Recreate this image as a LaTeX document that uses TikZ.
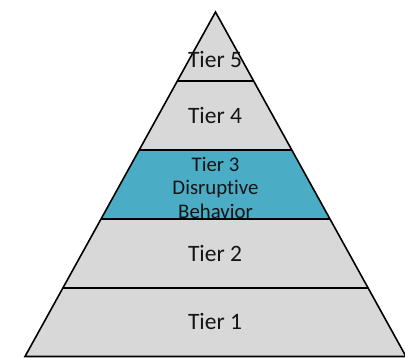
\documentclass[tikz,border=0pt]{standalone}
\usepackage{fontspec}
\setmainfont[RawFeature={-liga;-clig;-dlig}]{Carlito}
\definecolor{tiergray}{RGB}{216,216,216}
\definecolor{tierblue}{RGB}{75,172,198}
\definecolor{tiertext}{RGB}{20,20,20}
\tikzset{x=1bp,y=-1bp,
 band/.style={fill=tiergray,draw=none},
 hot/.style={fill=tierblue,draw=none},
 outline/.style={draw=black,line width=1.6bp,line join=miter},
 tierlabel/.style={text=tiertext,font=\fontsize{23.5bp}{26bp}\selectfont,inner sep=0pt,align=center},
 tiersmall/.style={text=tiertext,font=\fontsize{20.8bp}{23.5bp}\selectfont,inner sep=0pt,align=center}}
\begin{document}
\begin{tikzpicture}
\useasboundingbox (0,0) rectangle (405,358);
\clip (0,0) rectangle (405,358);
\fill[white] (0,0) rectangle (405,358);
\coordinate (apex) at (215.5,12);
\coordinate (bl) at (25,356.5);
\coordinate (br) at (406,356.5);
\coordinate (l4) at (177.4,81); \coordinate (r4) at (253.6,81);
\coordinate (l3) at (139.2,150); \coordinate (r3) at (291.8,150);
\coordinate (l2) at (101,219); \coordinate (r2) at (330,219);
\coordinate (l1) at (62.9,288); \coordinate (r1) at (368.1,288);
\fill[band] (apex) -- (bl) -- (br) -- cycle;
\fill[hot] (l3) -- (r3) -- (r2) -- (l2) -- cycle;
\draw[outline] (l4) -- (r4);
\draw[outline] (l3) -- (r3);
\draw[outline] (l2) -- (r2);
\draw[outline] (l1) -- (r1);
\draw[outline] (apex) -- (bl) -- (br) -- cycle;
\node[tierlabel] (t5) at (215,59) {Tier 5};
\node[tierlabel] (t4) at (215,115) {Tier 4};
\node[tiersmall] (t3) at (215.5,187.5) {Tier 3\\Disruptive\\Behavior};
\node[tierlabel] (t2) at (215,253) {Tier 2};
\node[tierlabel] (t1) at (215,321) {Tier 1};
\end{tikzpicture}
\end{document}
